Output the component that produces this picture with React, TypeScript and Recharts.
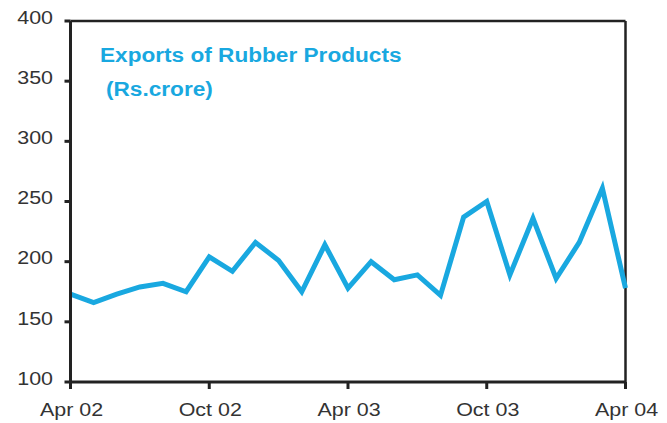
import React from "react";
import { LineChart, Line, XAxis, YAxis, ReferenceLine } from "recharts";

const months = [
  "Apr 02", "May 02", "Jun 02", "Jul 02", "Aug 02", "Sep 02", "Oct 02", "Nov 02", "Dec 02",
  "Jan 03", "Feb 03", "Mar 03", "Apr 03", "May 03", "Jun 03", "Jul 03", "Aug 03", "Sep 03",
  "Oct 03", "Nov 03", "Dec 03", "Jan 04", "Feb 04", "Mar 04", "Apr 04",
];
const exportsValues = [
  173, 166, 173, 179, 182, 175, 204, 192, 216, 201, 175, 214, 178,
  200, 185, 189, 172, 237, 250, 189, 236, 186, 216, 261, 178,
];
const xTickIndices = [0, 6, 12, 18, 24];
const yTicks = [100, 150, 200, 250, 300, 350, 400];
const titleLine1 = "Exports of Rubber Products";
const titleLine2 = "(Rs.crore)";

const data = months.map((m, i) => ({ idx: i, month: m, value: exportsValues[i] }));

const AXIS_COLOR = "#222";
const TEXT_COLOR = "#333";
const LINE_COLOR = "#19A8E0";
const FONT = "'Liberation Sans', Arial, sans-serif";
const SX = 1.16;

const YTick = (props: any) => {
  const { y, payload } = props;
  return (
    <text
      transform={`translate(53, ${y + 2.8}) scale(${SX}, 1)`}
      textAnchor="end"
      fontSize={18.5}
      fontFamily={FONT}
      fill={TEXT_COLOR}
    >
      {payload.value}
    </text>
  );
};

const XTick = (props: any) => {
  const { x, payload } = props;
  return (
    <text
      transform={`translate(${x + 1}, 416) scale(${SX}, 1)`}
      textAnchor="middle"
      fontSize={18.5}
      fontFamily={FONT}
      fill={TEXT_COLOR}
    >
      {months[payload.value]}
    </text>
  );
};

export default function App() {
  return (
    <div style={{ position: "absolute", left: 0, top: 0, background: "#fff" }}>
      <LineChart
        width={667}
        height={423}
        data={data}
        margin={{ top: 21, right: 41.5, bottom: 0, left: 0 }}
      >
        <XAxis
          dataKey="idx"
          type="number"
          domain={[0, 24]}
          ticks={xTickIndices}
          tick={<XTick />}
          height={41}
          stroke={AXIS_COLOR}
          strokeWidth={3}
          tickSize={7}
          interval={0}
        />
        <YAxis
          type="number"
          domain={[100, 400]}
          ticks={yTicks}
          tick={<YTick />}
          width={70.5}
          stroke={AXIS_COLOR}
          strokeWidth={3}
          tickSize={6}
          interval={0}
        />
        <ReferenceLine y={400} stroke={AXIS_COLOR} strokeWidth={2.5} />
        <ReferenceLine x={24} stroke={AXIS_COLOR} strokeWidth={2.5} />
        <Line
          type="linear"
          dataKey="value"
          stroke={LINE_COLOR}
          strokeWidth={5}
          dot={false}
          isAnimationActive={false}
          strokeLinejoin="miter"
        />
        <text
          transform={`translate(100, 62) scale(${SX}, 1)`}
          fontSize={19.5}
          fontWeight="bold"
          fontFamily={FONT}
          fill={LINE_COLOR}
        >
          {titleLine1}
        </text>
        <text
          transform={`translate(106, 96) scale(${SX}, 1)`}
          fontSize={19.5}
          fontWeight="bold"
          fontFamily={FONT}
          fill={LINE_COLOR}
        >
          {titleLine2}
        </text>
      </LineChart>
    </div>
  );
}
